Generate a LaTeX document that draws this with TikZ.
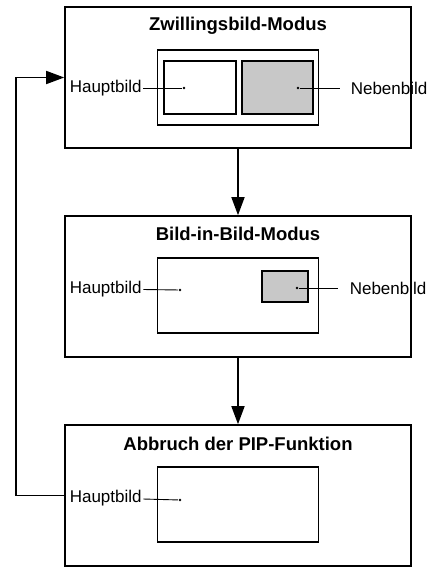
\documentclass[tikz,border=0pt]{standalone}
\usepackage{fontspec}
\setmainfont{Liberation Sans}
\usetikzlibrary{arrows.meta,positioning}
\definecolor{pipgray}{RGB}{200,200,200}
\begin{document}
\begin{tikzpicture}[
    x=1pt, y=-1pt,
    node distance=209pt,
    modebox/.style={rectangle, draw, line width=1.6pt, minimum width=346pt, minimum height=141pt},
    screen/.style={rectangle, draw, line width=1.6pt, minimum width=161pt, minimum height=75pt},
    subscreen/.style={rectangle, draw, line width=1.6pt},
    titletext/.style={font=\fontsize{18.5}{20}\selectfont\bfseries, inner sep=0pt},
    labeltext/.style={font=\fontsize{17}{19}\selectfont, inner sep=1pt, anchor=west},
    dot/.style={circle, fill, inner sep=0pt, minimum size=2.6pt},
    leader/.style={line width=0.9pt},
    >={Triangle[length=18pt,width=13pt]}, line width=1.6pt
]
\useasboundingbox (0,0) rectangle (438,567);

% mode boxes
\node[modebox] (zwilling) at (238,77.5) {};
\node[modebox] (bib) [below of=zwilling] {};
\node[modebox] (abbruch) [below of=bib] {};

\node[titletext] (zwilling_t) at ([yshift=-20pt]zwilling.north) {Zwillingsbild-Modus};
\node[titletext] (bib_t) at ([yshift=-19pt]bib.north) {Bild-in-Bild-Modus};
\node[titletext] (abbruch_t) at ([yshift=-20pt]abbruch.north) {Abbruch der PIP-Funktion};

% screens
\node[screen] (zwilling_s) at ([yshift=-10pt]zwilling.center) {};
\node[screen] (bib_s) at ([yshift=-9pt]bib.center) {};
\node[screen] (abbruch_s) at ([yshift=-9pt]abbruch.center) {};

\node[subscreen, minimum width=72pt, minimum height=53pt] (zw_haupt) at (200,87.5) {};
\node[subscreen, fill=pipgray, minimum width=71pt, minimum height=53pt] (zw_neben) at (277.5,87.5) {};
\node[subscreen, fill=pipgray, line width=1.2pt, minimum width=46pt, minimum height=31pt] (bib_neben) at (285,286.5) {};

% dots
\node[dot] (zw_hd) at (184,88) {};
\node[dot] (zw_nd) at (298,88) {};
\node[dot] (bib_hd) at (180,290) {};
\node[dot] (bib_nd) at (297,288) {};
\node[dot] (ab_hd) at (180,500) {};

% labels
\node[labeltext] (zw_hl) at (68,88) {Hauptbild};
\node[labeltext, inner xsep=10pt] (zw_nl) at (340,88) {Nebenbild};
\node[labeltext] (bib_hl) at (68,289) {Hauptbild};
\node[labeltext, inner xsep=11pt] (bib_nl) at (338,288) {Nebenbild};
\node[labeltext] (ab_hl) at (68,498) {Hauptbild};

\draw[leader] (zw_hl) -- (zw_hd);
\draw[leader] (zw_nd) -- (zw_nl);
\draw[leader] (bib_hl) -- (bib_hd);
\draw[leader] (bib_nd) -- (bib_nl);
\draw[leader] (ab_hl) -- (ab_hd);

% flow
\draw[->] (zwilling) -- (bib);
\draw[->] (bib) -- (abbruch);
\draw[->] (abbruch.west) -- ++(-48,0) |- (zwilling.west);

\end{tikzpicture}
\end{document}
